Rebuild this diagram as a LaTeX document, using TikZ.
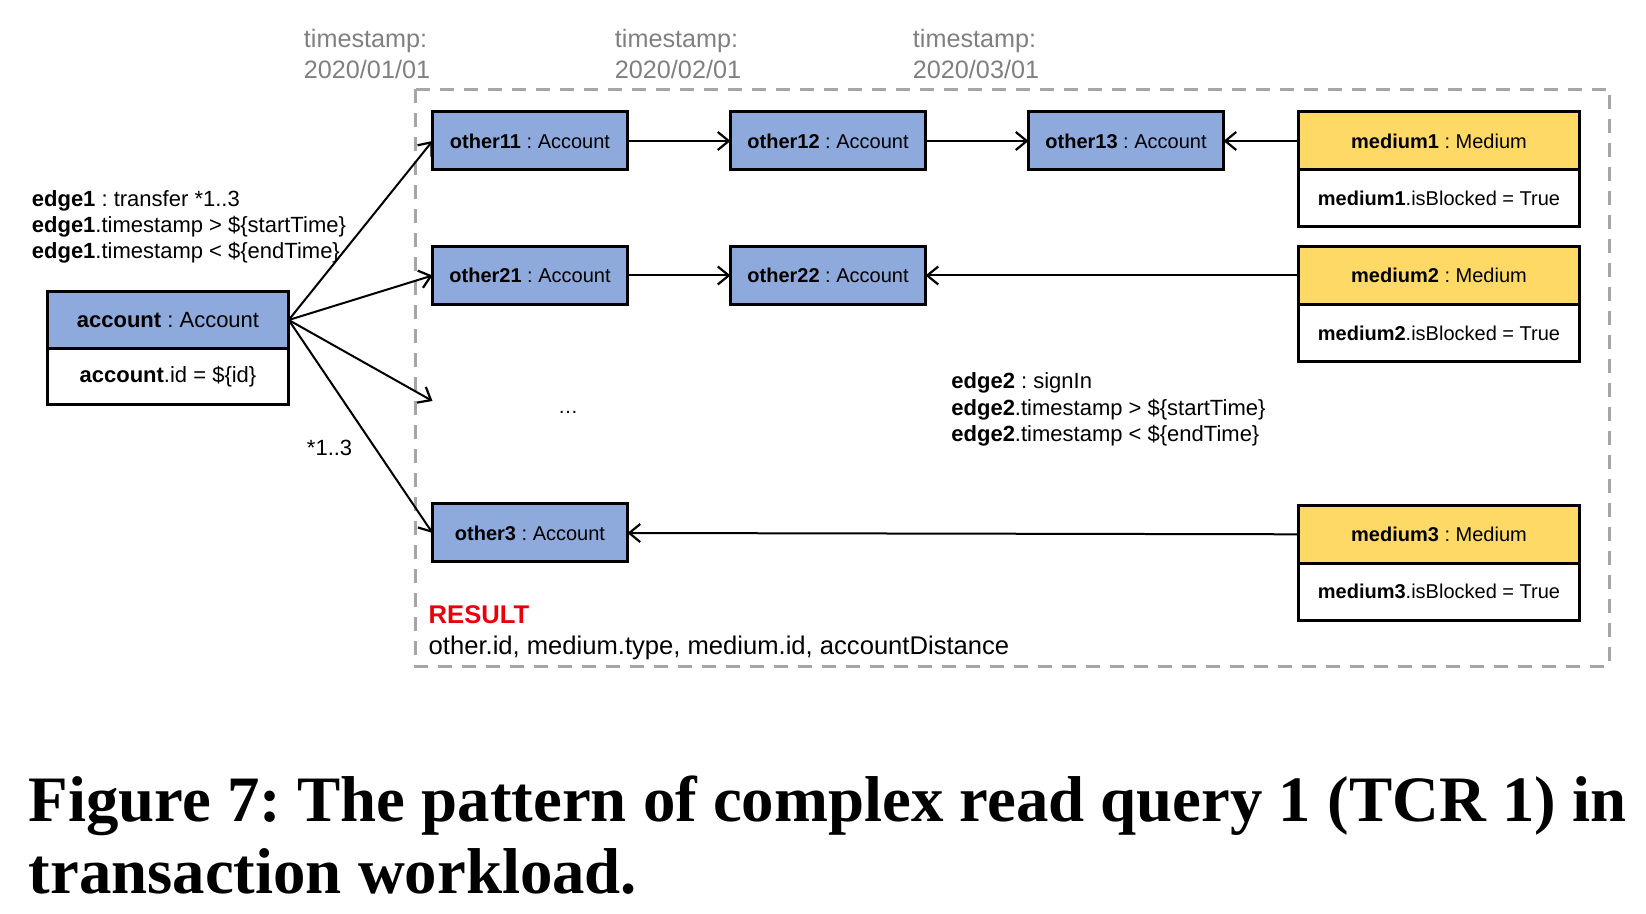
\documentclass[tikz,border=0pt]{standalone}
\usepackage{fontspec}
\setmainfont{Liberation Sans}
\newfontfamily\capfont{Liberation Serif}
\usepackage{tikz}
\usetikzlibrary{positioning, arrows.meta}
\definecolor{acctblue}{HTML}{8EA9DB}
\definecolor{medyellow}{HTML}{FFD966}
\definecolor{dashgrey}{HTML}{A6A6A6}
\definecolor{stampgrey}{HTML}{808080}
\definecolor{resultred}{HTML}{E8000B}
\frenchspacing

\begin{document}
\begin{tikzpicture}[x=0.5pt, y=-0.5pt, font=\fontsize{10}{12}\selectfont,
  >={Straight Barb[length=5.5pt, width=9pt, line width=1.1pt]},
  box/.style={draw, line width=1.5pt, inner sep=0pt, outer sep=0pt, minimum height=29pt},
  acc/.style={box, fill=acctblue, minimum width=97.5pt},
  med/.style={box, fill=medyellow, minimum width=140.5pt},
  medattr/.style={box, fill=white, minimum width=140.5pt, minimum height=28.5pt},
  link/.style={->, line width=1pt},
  stamp/.style={align=left, text=stampgrey, font=\fontsize{12.6}{15.75}\selectfont},
  cond/.style={align=left, anchor=west, inner sep=0pt, font=\fontsize{11}{13.1}\selectfont}]

  \useasboundingbox (0,0) rectangle (1646,914);

  % timestamps
  \node[stamp] (ts1) at (367,54) {timestamp:\\2020/01/01};
  \node[stamp] (ts2) at (678,54) {timestamp:\\2020/02/01};
  \node[stamp] (ts3) at (976,54) {timestamp:\\2020/03/01};

  % scope of the pattern
  \draw[dashgrey, line width=1.5pt, dash pattern=on 7pt off 5pt] (415.7,89.2) rectangle (1609.2,666.6);

  % start account
  \node[box, fill=acctblue, minimum width=120.7pt, minimum height=28.3pt, font=\fontsize{11}{13}\selectfont] (account) at (168,320) {\textbf{account} : Account};
  \node[box, fill=white, minimum width=120.7pt, minimum height=28.3pt, font=\fontsize{11}{13}\selectfont, below=0pt of account] (accountid) {\textbf{account}.id = \$\{id\}};

  % other accounts
  \node[acc] (other11) at (530,141) {\textbf{other11} : Account};
  \node[acc] (other12) at (828,141) {\textbf{other12} : Account};
  \node[acc] (other13) at (1126,141) {\textbf{other13} : Account};
  \node[acc] (other21) at (530,275.5) {\textbf{other21} : Account};
  \node[acc] (other22) at (828,275.5) {\textbf{other22} : Account};
  \node[acc] (other3) at (530,533) {\textbf{other3} : Account};
  \node (dots) at (568,412) {\dots};
  \coordinate (dotsend) at (432.5,401);

  % mediums
  \node[med] (medium1) at (1439,141) {\textbf{medium1} : Medium};
  \node[medattr, below=0pt of medium1] (medium1attr) {\textbf{medium1}.isBlocked = True};
  \node[med] (medium2) at (1439,275.5) {\textbf{medium2} : Medium};
  \node[medattr, below=0pt of medium2] (medium2attr) {\textbf{medium2}.isBlocked = True};
  \node[med] (medium3) at (1439,534.3) {\textbf{medium3} : Medium};
  \node[medattr, below=0pt of medium3] (medium3attr) {\textbf{medium3}.isBlocked = True};

  % transfers
  \draw[link] (account.east) -- (other11.west);
  \draw[link] (account.east) -- (other21.west);
  \draw[link] (account.east) -- (dotsend);
  \draw[link] (account.east) -- (other3.west);
  \draw[link] (other11) -- (other12);
  \draw[link] (other12) -- (other13);
  \draw[link] (other21) -- (other22);

  % sign ins
  \draw[link] (medium1.west) -- (other13.east);
  \draw[link] (medium2.west) -- (other22.east);
  \draw[link] (medium3.west) -- (other3.east);

  % conditions
  \node[cond] (edge1) at (31.5,227) {\textbf{edge1} : transfer *1..3\\\textbf{edge1}.timestamp > \$\{startTime\}\\\textbf{edge1}.timestamp < \$\{endTime\}};
  \node[font=\fontsize{11}{13}\selectfont] (mult) at (329.6,448) {*1..3};
  \node[cond] (edge2) at (951,409.4) {\textbf{edge2} : signIn\\\textbf{edge2}.timestamp > \$\{startTime\}\\\textbf{edge2}.timestamp < \$\{endTime\}};

  % result
  \node[anchor=west, inner sep=0pt, text=resultred, font=\bfseries\fontsize{12.8}{15}\selectfont] (resulttitle) at (428.3,615) {RESULT};
  \node[anchor=west, inner sep=0pt, font=\fontsize{12.8}{15}\selectfont] (resultcols) at (428.3,647.7) {other.id, medium.type, medium.id, accountDistance};

  % caption
  \node[anchor=base west, inner sep=0pt, font=\capfont\bfseries\fontsize{32.4}{36}\selectfont] (caption1) at (28.3,821) {Figure 7: The pattern of complex read query 1 (TCR 1) in};
  \node[anchor=base west, inner sep=0pt, font=\capfont\bfseries\fontsize{32.4}{36}\selectfont] (caption2) at (28.3,893) {transaction workload.};
\end{tikzpicture}
\end{document}
